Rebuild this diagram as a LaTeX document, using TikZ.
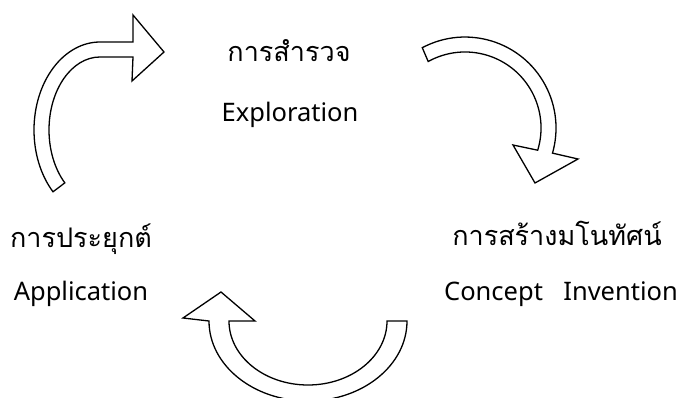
\documentclass[tikz,border=0pt]{standalone}
\usepackage{fontspec}
\setmainfont{Noto Sans}
\newfontfamily\thaifont[Script=Thai]{Loma}
\begin{document}
\begin{tikzpicture}[x=1pt,y=-1pt,
  blockarrow/.style={draw=black,fill=white,line width=1.3pt,line join=miter},
  thaitext/.style={anchor=base,inner sep=0pt,font=\thaifont\fontsize{27}{32}\selectfont},
  engtext/.style={anchor=base,inner sep=0pt,font=\fontsize{25.5}{30}\selectfont}]
\useasboundingbox (0,0) rectangle (677,398);
% arrow 1 (top left)
\draw[blockarrow] (53,191.8) arc[start angle=135.4,end angle=270,x radius=66,y radius=88]
  .. controls (115,42) .. (133,42) -- (133,15) -- (164,52) -- (132,81) -- (133,57)
  .. controls (115,57) .. (100,57)
  arc[start angle=270,end angle=133.6,x radius=51,y radius=73] -- cycle;
% arrow 2 (top right)
\draw[blockarrow] (422.3,47.7) arc[start angle=-118,end angle=16,radius=91]
  -- (578,159) -- (535,183) -- (513,145) -- (537.7,150.2)
  arc[start angle=17,end angle=-119,radius=76] -- cycle;
% arrow 3 (bottom)
\draw[blockarrow] (407,321) arc[start angle=0,end angle=180,x radius=99,y radius=80]
  -- (183,318) -- (221,292) -- (255,321) -- (229,321)
  arc[start angle=180,end angle=0,x radius=79,y radius=64] -- cycle;
% texts
\node[thaitext] (expth) at (289,62) {การสำรวจ};
\node[engtext] (expen) at (290,122) {Exploration};
\node[thaitext] (appth) at (81,247) {การประยุกต์};
\node[engtext] (appen) at (81,300) {Application};
\node[thaitext] (conth) at (557,245) {การสร้างมโนทัศน์};
\node[engtext] (conen) at (561,300) {Concept\hspace{0.8em}Invention};
\end{tikzpicture}
\end{document}
